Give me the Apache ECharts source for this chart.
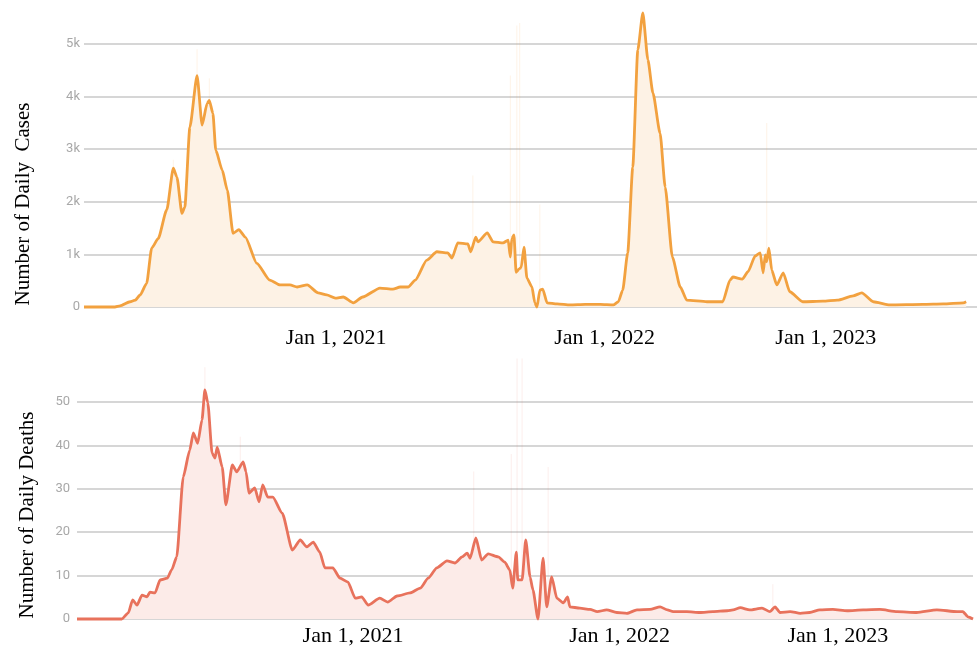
<!DOCTYPE html>
<html lang="en">
<head>
    <meta charset="UTF-8">
    <title>Daily Cases and Deaths</title>
    <script src="https://cdn.jsdelivr.net/npm/echarts@6.0.0/dist/echarts.min.js"></script>
    <style>
        body { margin: 0; background: #fff; }
    </style>
</head>
<body>
<div id="box" style="width: 979px;height: 653px;"></div>
<script>
    // x values are days counted from the first day of the record
    var caseDays = [0,43,50,64,71,78,87,94,103,115,
        124,129,136,140,147,157,164,171,174,179,
        183,192,199,207,215,224,240,258,272,286,
        296,310,325,337,349,360,374,387,411,429,
        439,450,460,476,490,505,511,519,533,537,
        544,547,560,568,582,589,592,594,597,600,
        604,607,611,615,622,626,629,633,637,643,
        657,675,696,717,735,742,748,755,762,769,
        776,783,790,800,807,817,828,837,865,887,
        897,901,914,922,932,939,943,946,948,951,
        955,962,971,980,998,1026,1046,1068,1080,1096,
        1119,1165,1193,1221,1225];
    var caseValues = [0,0,20,100,130,230,450,1120,1300,1850,
        2640,2470,1780,1900,3420,4400,3460,3870,3930,3680,
        2980,2600,2220,1400,1470,1330,830,510,420,420,
        380,420,270,230,170,190,80,190,360,340,
        380,380,510,890,1050,1030,930,1220,1200,1050,
        1330,1240,1410,1240,1220,1270,950,1300,1370,660,
        720,750,1140,550,380,80,0,320,340,80,
        60,40,50,50,40,100,320,1030,2660,4890,
        5590,4700,4070,3300,2280,950,380,130,100,100,
        510,570,530,670,970,1030,650,990,860,1120,
        700,420,650,290,100,110,130,210,270,100,
        40,50,60,80,100];

    var deathDays = [0,62,71,77,83,90,97,101,108,115,
        125,131,138,147,156,161,167,173,177,181,
        187,191,194,201,206,215,221,230,234,238,
        246,252,257,264,271,284,298,309,318,327,
        336,343,354,364,375,385,394,403,419,430,
        443,461,475,486,498,512,523,533,540,544,
        552,560,569,583,592,599,603,608,610,616,
        621,627,631,638,645,650,657,664,673,679,
        682,696,710,720,733,747,761,775,793,807,
        817,825,844,862,880,900,908,918,931,948,
        959,966,973,987,1001,1014,1028,1046,1066,1088,
        1111,1135,1162,1190,1218,1226,1233,1240];
    var deathValues = [0,0,1.4,4.4,3.2,5.5,5.1,6.2,6,9,
        9.4,11.3,14.3,32.7,38.9,42.9,40.5,45.9,52.8,49.8,
        38.2,37.1,39.6,35,26.3,35.5,33.9,36.2,33.9,29,
        30.2,27,30.9,28.1,28.1,24.4,15.9,18.2,16.6,17.7,
        15.4,11.8,11.8,9.4,8.5,4.8,5.1,3.2,4.8,3.9,
        5.3,6,7.1,9.4,11.8,13.4,12.9,14.3,15.2,14,
        18.7,13.6,15,14.3,13.1,11.3,7.1,15.4,9,9,
        18.2,9.7,6.7,0,14,2.8,9.7,4.8,3.7,5.1,
        2.8,2.5,2.2,1.7,2.1,1.5,1.3,2.1,2.2,2.8,
        2.1,1.7,1.7,1.5,1.7,1.9,2.1,2.6,2.1,2.5,
        1.7,2.8,1.5,1.7,1.3,1.5,2.1,2.2,1.9,2.1,
        2.2,1.7,1.5,2.1,1.7,1.7,0.5,0];

    // faint raw daily spikes behind the averaged lines
    var caseSpikeDays = [124,157,174,540,592,601,605,633,948];
    var caseSpikeValues = [2800,4900,4350,2500,4400,5350,5400,1950,3500];
    var deathSpikeDays = [177,226,549,601,609,616,652,963];
    var deathSpikeValues = [58,42,34,38,60,60,35,8];

    var xLabels = ['Jan 1, 2021', 'Jan 1, 2022', 'Jan 1, 2023'];
    var caseLabelDays = [350, 723, 1030];
    var deathLabelDays = [382, 751, 1053];

    function zip(xs, ys) {
        var out = [];
        for (var i = 0; i < xs.length; i++) out.push([xs[i], ys[i]]);
        return out;
    }

    function xAxisFor(gridIndex, labelDays, margin) {
        return {
            type: 'value', gridIndex: gridIndex, min: 0, max: 1240,
            axisLine: {show: false}, axisTick: {show: false}, splitLine: {show: false},
            axisLabel: {
                customValues: labelDays,
                margin: margin,
                color: '#000',
                fontFamily: 'Liberation Serif',
                fontSize: 22,
                formatter: function (v) {
                    var i = labelDays.indexOf(v);
                    return i >= 0 ? xLabels[i] : '';
                }
            }
        };
    }

    function yAxisFor(gridIndex, max, interval, fmt, margin) {
        return {
            type: 'value', gridIndex: gridIndex, min: 0, max: max, interval: interval,
            axisLine: {show: false}, axisTick: {show: false},
            splitLine: {lineStyle: {color: '#d6d6d6', width: 2}},
            axisLabel: {color: '#a8a8a8', fontFamily: 'Roboto', fontSize: 13, margin: margin, formatter: fmt}
        };
    }

    var myChart = echarts.init(document.getElementById('box'));
    var option = {
        animation: false,
        grid: [
            {left: 84, right: 2, top: 44, height: 263},
            {left: 77, right: 6, top: 402, height: 217}
        ],
        xAxis: [
            xAxisFor(0, caseLabelDays, 20),
            xAxisFor(1, deathLabelDays, 6)
        ],
        yAxis: [
            yAxisFor(0, 5000, 1000, function (v) { return v === 0 ? '0' : (v / 1000) + 'k'; }, 4),
            yAxisFor(1, 50, 10, function (v) { return String(v); }, 7)
        ],
        graphic: [
            {type: 'text', x: 23, y: 204, rotation: Math.PI / 2,
                style: {text: 'Number of Daily  Cases', fill: '#000', font: '21px "Liberation Serif"',
                    textAlign: 'center', textVerticalAlign: 'middle'}},
            {type: 'text', x: 27, y: 515, rotation: Math.PI / 2,
                style: {text: 'Number of Daily Deaths', fill: '#000', font: '21px "Liberation Serif"',
                    textAlign: 'center', textVerticalAlign: 'middle'}}
        ],
        series: [
            {
                type: 'bar', xAxisIndex: 0, yAxisIndex: 0, barWidth: 1, clip: false, z: 1,
                itemStyle: {color: 'rgba(244,164,66,0.13)'},
                data: zip(caseSpikeDays, caseSpikeValues)
            },
            {
                type: 'line', xAxisIndex: 0, yAxisIndex: 0, symbol: 'none', clip: false, z: 2,
                smooth: 0.2, smoothMonotone: 'x',
                lineStyle: {color: '#f2a13f', width: 2.8},
                areaStyle: {color: '#fdf2e5', opacity: 1},
                data: zip(caseDays, caseValues)
            },
            {
                type: 'bar', xAxisIndex: 1, yAxisIndex: 1, barWidth: 1, clip: false, z: 1,
                itemStyle: {color: 'rgba(232,115,95,0.12)'},
                data: zip(deathSpikeDays, deathSpikeValues)
            },
            {
                type: 'line', xAxisIndex: 1, yAxisIndex: 1, symbol: 'none', clip: false, z: 2,
                smooth: 0.2, smoothMonotone: 'x',
                lineStyle: {color: '#e8725c', width: 2.8},
                areaStyle: {color: '#fcebe8', opacity: 1},
                data: zip(deathDays, deathValues)
            }
        ]
    };
    myChart.setOption(option);
</script>
</body>
</html>
